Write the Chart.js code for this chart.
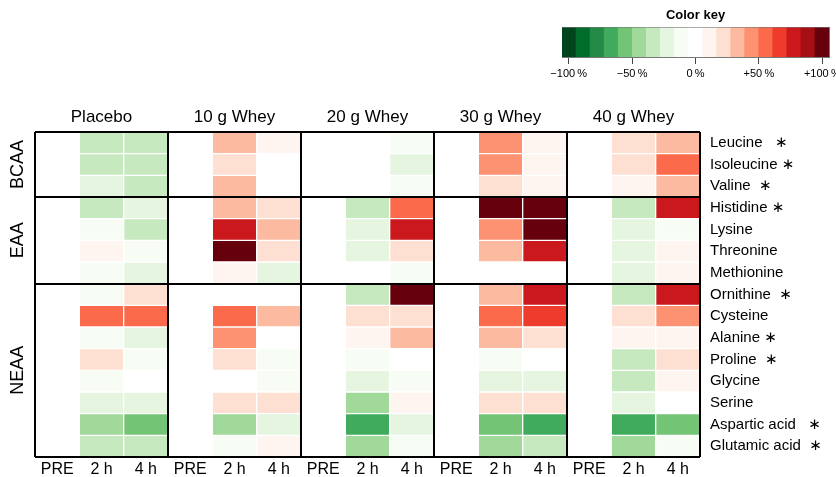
<!DOCTYPE html>
<html>
<head>
<meta charset="utf-8">
<script src="https://cdn.jsdelivr.net/npm/chart.js@4.4.1/dist/chart.umd.min.js"></script>
<style>
  html, body { margin:0; padding:0; background:#fff; overflow:hidden; }
  #main { position:absolute; left:0; top:0; }
  #key { position:absolute; left:550px; top:0; }
</style>
</head>
<body>
<canvas id="main" width="836" height="477"></canvas>
<canvas id="key" width="286" height="85"></canvas>
<script>
const rowLabels = [
  "Leucine   \u2217", "Isoleucine \u2217", "Valine  \u2217",
  "Histidine \u2217", "Lysine", "Threonine", "Methionine",
  "Ornithine  \u2217", "Cysteine", "Alanine \u2217", "Proline  \u2217",
  "Glycine", "Serine", "Aspartic acid   \u2217", "Glutamic acid  \u2217"
];
const classNames = ["BCAA", "EAA", "NEAA"];
const classSizes = [3, 4, 8];
const groupNames = ["Placebo", "10 g Whey", "20 g Whey", "30 g Whey", "40 g Whey"];
const timeLabels = ["PRE", "2 h", "4 h"];

// % change vs PRE, one value per amino acid (rows above)
const pre       = [0, 0, 0, 0, 0, 0, 0, 0, 0, 0, 0, 0, 0, 0, 0];
const placebo2h = [-33, -33, -22, -33, -11, 11, -11, -11, 55, -11, 22, -11, -22, -44, -33];
const placebo4h = [-33, -33, -33, -22, -33, -11, -22, 22, 55, -22, -11, 0, -22, -55, -33];
const whey10_2h = [33, 22, 33, 33, 78, 100, 11, 0, 55, 44, 22, 0, 22, -44, -11];
const whey10_4h = [11, 0, 0, 22, 33, 22, -22, 0, 33, 0, -11, -11, 22, -22, 11];
const whey20_2h = [0, 0, 0, -33, -22, -22, 0, -33, 22, 11, -11, -22, -44, -66, -44];
const whey20_4h = [-11, -22, -11, 55, 78, 22, -11, 100, 22, 33, 0, -11, 11, -22, -11];
const whey30_2h = [44, 44, 22, 100, 44, 33, 0, 33, 55, 33, -11, -22, 22, -55, -44];
const whey30_4h = [11, 11, 11, 100, 100, 78, 0, 78, 66, 22, 0, -22, 22, -66, -33];
const whey40_2h = [22, 22, 11, -33, -22, -22, -22, -33, 22, 11, -33, -33, -22, -66, -44];
const whey40_4h = [33, 55, 33, 78, -11, 11, 11, 78, 44, 11, 22, 11, 0, -55, -11];

const keyColors = [
  "#00441b", "#006d2c", "#238b45", "#41ab5d", "#74c476", "#a1d99b", "#c7e9c0", "#e5f5e0", "#f7fcf5",
  "#ffffff",
  "#fff5f0", "#fee0d2", "#fcbba1", "#fc9272", "#fb6a4a", "#ef3b2c", "#cb181d", "#a50f15", "#67000d"
];
const keyTicks = [-100, -50, 0, 50, 100];
const keyLimit = 105.3;

Chart.defaults.font.family = "'Liberation Sans', Arial, 'DejaVu Sans', sans-serif";
Chart.defaults.color = "#000";

const columns = [
  pre, placebo2h, placebo4h,
  pre, whey10_2h, whey10_4h,
  pre, whey20_2h, whey20_4h,
  pre, whey30_2h, whey30_4h,
  pre, whey40_2h, whey40_4h
];
const nCols = columns.length;
const binWidth = 2 * keyLimit / keyColors.length;
const mid = (keyColors.length - 1) / 2;

function colorOf(v) {
  let i = Math.round(v / binWidth) + mid;
  i = Math.max(0, Math.min(keyColors.length - 1, i));
  return keyColors[i];
}

// box edges for the black frames
const colEdges = groupNames.map((g, i) => i * timeLabels.length).concat(nCols);
const rowEdges = [0];
classSizes.forEach(n => rowEdges.push(rowEdges[rowEdges.length - 1] + n));
const classCenters = classSizes.map((n, i) => rowEdges[i] + n / 2);

const datasets = columns.map((vals, c) => ({
  data: vals.map(() => [c, c + 1]),
  backgroundColor: vals.map(colorOf),
  borderColor: "#fff",
  borderWidth: 1,
  borderSkipped: false,
  barPercentage: 1,
  categoryPercentage: 1,
  grouped: false,
  xAxisID: "x",
  yAxisID: "y"
}));

const noPad = s => { s.paddingLeft = 0; s.paddingRight = 0; s.paddingTop = 0; s.paddingBottom = 0; };
const frameGrid = { color: "#000", lineWidth: 2, drawTicks: false, offset: false, z: 1 };

new Chart(document.getElementById("main"), {
  type: "bar",
  data: { labels: rowLabels, datasets },
  options: {
    indexAxis: "y",
    responsive: false,
    animation: false,
    layout: { padding: 0 },
    plugins: { legend: { display: false }, tooltip: { enabled: false } },
    scales: {
      x: {
        type: "linear", position: "top", min: 0, max: nCols, offset: false,
        afterBuildTicks: s => { s.ticks = colEdges.map(v => ({ value: v })); },
        ticks: { display: false },
        grid: frameGrid,
        border: { display: false },
        afterFit: s => { s.height = 0; noPad(s); }
      },
      xGroup: {
        type: "category", position: "top", labels: groupNames, offset: true,
        grid: { display: false, drawTicks: false },
        border: { display: false },
        ticks: { font: { size: 17 }, padding: 4, autoSkip: false, maxRotation: 0 },
        afterFit: s => { s.height = 132; noPad(s); }
      },
      xTime: {
        type: "category", position: "bottom",
        labels: groupNames.flatMap(() => timeLabels), offset: true,
        grid: { display: false, drawTicks: false },
        border: { display: false },
        ticks: { font: { size: 16 }, padding: 3, autoSkip: false, maxRotation: 0 },
        afterFit: s => { s.height = 20; noPad(s); }
      },
      y: {
        type: "category", position: "right", offset: true,
        grid: { display: false, drawTicks: false },
        border: { display: false },
        ticks: { font: { size: 15 }, padding: 10, autoSkip: false },
        afterFit: s => { s.width = 136; noPad(s); }
      },
      yLines: {
        type: "linear", position: "left", min: 0, max: rowLabels.length, reverse: true, offset: false,
        afterBuildTicks: s => { s.ticks = rowEdges.map(v => ({ value: v })); },
        ticks: { display: false },
        grid: frameGrid,
        border: { display: false },
        afterFit: s => { s.width = 0; noPad(s); }
      },
      yGroup: {
        type: "linear", position: "left", min: 0, max: rowLabels.length, reverse: true, offset: false,
        afterBuildTicks: s => { s.ticks = classCenters.map(v => ({ value: v })); },
        ticks: {
          callback: (v, i) => classNames[i],
          font: { size: 18 }, minRotation: 90, maxRotation: 90,
          crossAlign: "center", padding: -8, autoSkip: false
        },
        grid: { display: false, drawTicks: false, offset: false },
        border: { display: false },
        afterFit: s => { s.width = 35; noPad(s); }
      }
    }
  }
});

// colour key
const keyData = keyColors.map((c, i) => ({
  x: [-keyLimit + i * binWidth, -keyLimit + (i + 1) * binWidth],
  y: "key"
}));

function pct(v) {
  if (v === 0) return "0\u2009%";
  return (v < 0 ? "\u2212" : "+") + Math.abs(v) + "\u2009%";
}

new Chart(document.getElementById("key"), {
  type: "bar",
  data: {
    labels: ["key"],
    datasets: [{
      data: keyData,
      backgroundColor: keyColors,
      borderWidth: 0,
      barPercentage: 1,
      categoryPercentage: 1,
      xAxisID: "x",
      yAxisID: "y"
    }]
  },
  options: {
    indexAxis: "y",
    responsive: false,
    animation: false,
    layout: { padding: { left: 12, right: 7, top: 0, bottom: 0 } },
    plugins: {
      legend: { display: false },
      tooltip: { enabled: false },
      title: {
        display: true, text: "Color key", color: "#000",
        font: { size: 13, weight: "bold" },
        padding: { top: 8, bottom: 4 }
      }
    },
    scales: {
      x: {
        type: "linear", position: "bottom", min: -keyLimit, max: keyLimit,
        afterBuildTicks: s => { s.ticks = keyTicks.map(v => ({ value: v })); },
        ticks: { callback: v => pct(v), font: { size: 11 }, padding: 3, maxRotation: 0, autoSkip: false },
        grid: { drawOnChartArea: false, drawTicks: true, tickLength: 7, color: "#444" },
        border: { color: "#777" },
        afterFit: s => { s.height = 28; noPad(s); }
      },
      xTop: {
        type: "linear", position: "top", min: 0, max: 1,
        ticks: { display: false }, grid: { display: false },
        border: { color: "#777" },
        afterFit: s => { s.height = 0; noPad(s); }
      },
      y: {
        type: "category", position: "left", offset: true,
        ticks: { display: false }, grid: { display: false },
        border: { color: "#777" },
        afterFit: s => { s.width = 0; noPad(s); }
      },
      yRight: {
        type: "linear", position: "right", min: 0, max: 1, offset: false,
        ticks: { display: false }, grid: { display: false, offset: false },
        border: { color: "#777" },
        afterFit: s => { s.width = 0; noPad(s); }
      }
    }
  }
});
</script>
</body>
</html>
